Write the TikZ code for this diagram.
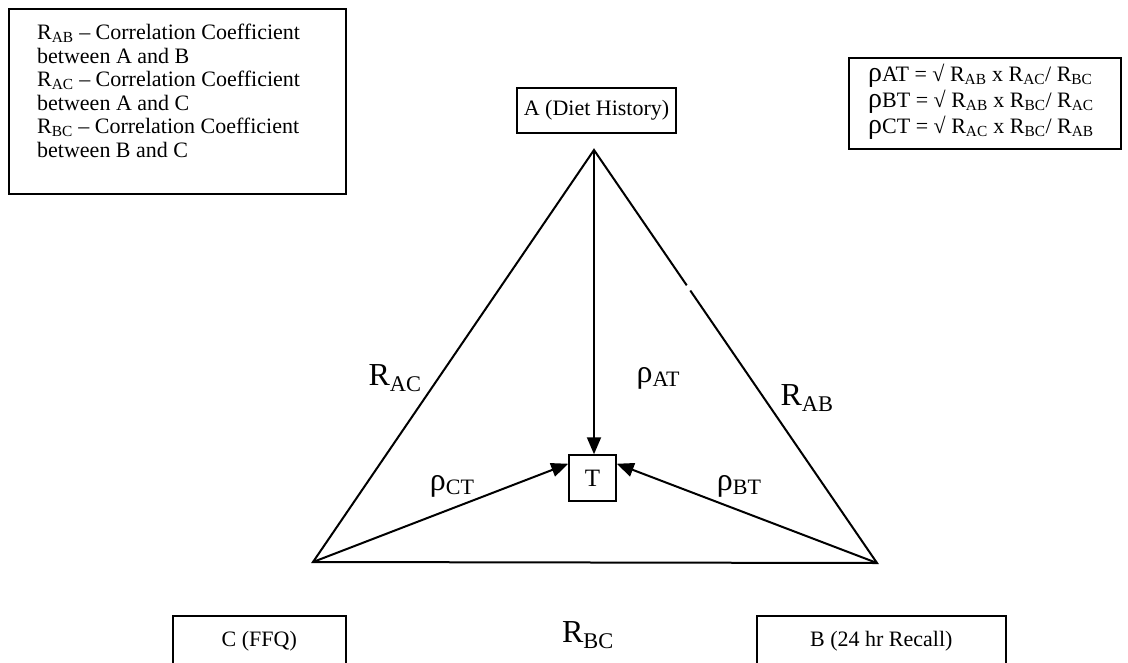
\documentclass[tikz,border=0pt]{standalone}
\usepackage{fontspec}
\setmainfont{Liberation Serif}
\usetikzlibrary{arrows.meta,calc}
\newcommand{\mysub}[1]{\textsubscript{#1}}
\newcommand{\rholow}[1]{{\fontsize{32}{32}\selectfont ρ}\raisebox{-4pt}{\fontsize{22}{22}\selectfont #1}}
\newcommand{\bigrho}{{\fontsize{28}{25}\selectfont ρ}}
\begin{document}
\begin{tikzpicture}[x=1pt,y=-1pt,
  box/.style={draw, line width=1.5pt, inner sep=0pt},
  txt/.style={font=\fontsize{22}{23.5}\selectfont, inner sep=0pt},
  big/.style={font=\fontsize{32}{34}\selectfont, inner sep=0pt},
  tri/.style={line width=2pt},
  arr/.style={line width=2pt, -{Triangle[length=17pt,width=14pt]}}]
\useasboundingbox (0,0) rectangle (1128,662);
% legend boxes
\node[box, anchor=north west, minimum width=337pt, minimum height=185pt] (legend) at (8,8) {};
\node[txt, anchor=north west, align=left] (legendtxt) at (37,24)
  {R\mysub{AB} – Correlation Coefficient\\between A and B\\R\mysub{AC} – Correlation Coefficient\\between A and C\\R\mysub{BC} – Correlation Coefficient\\between B and C};
\node[box, anchor=north west, minimum width=272pt, minimum height=91pt] (formulas) at (848,57) {};
\node[txt, anchor=north west, align=left, font=\fontsize{22}{26}\selectfont] (formtxt) at (868,64)
  {\bigrho AT = √ R\mysub{AB} x R\mysub{AC}/ R\mysub{BC}\\
   \bigrho BT = √ R\mysub{AB} x R\mysub{BC}/ R\mysub{AC}\\
   \bigrho CT = √ R\mysub{AC} x R\mysub{BC}/ R\mysub{AB}};
% method boxes
\node[box, txt, minimum width=159pt, minimum height=45pt] (Abox) at (596.5,110.5) {A (Diet History)};
\node[box, txt, anchor=north west, minimum width=173pt, minimum height=50pt] (Cbox) at (172,615) {C (FFQ)};
\node[box, txt, anchor=north west, minimum width=249pt, minimum height=50pt] (Bbox) at (756,615) {B (24 hr Recall)};
\node[box, inner sep=0pt, font=\fontsize{25}{25}\selectfont, minimum width=47pt, minimum height=46pt] (T) at (592.5,478) {T};
% vertices
\coordinate (A) at (594,150);
\coordinate (C) at (313,562);
\coordinate (B) at (877,563);
\draw[tri, line join=miter] (A) -- (B) -- (C) -- cycle;
\path (A) -- (B) coordinate[pos=0.328] (g1) coordinate[pos=0.340] (g2);
\draw[white, line width=3.5pt] (g1) -- (g2);
\coordinate (Tl) at ($(T.north west)!0.2!(T.south west)$);
\coordinate (Tr) at ($(T.north east)!0.2!(T.south east)$);
\draw[arr] (A) -- (T.north -| A);
\draw[arr] (C) -- (Tl);
\draw[arr] (B) -- (Tr);
% labels
\node[big] (lRAC) at (395,378) {R\mysub{AC}};
\node[big] (lRAB) at (807,398) {R\mysub{AB}};
\node[big] (lRBC) at (588,635) {R\mysub{BC}};
\node[inner sep=0pt] (lpAT) at (658,378) {\rholow{AT}};
\node[inner sep=0pt] (lpCT) at (452,486) {\rholow{CT}};
\node[inner sep=0pt] (lpBT) at (739,486) {\rholow{BT}};
\end{tikzpicture}
\end{document}
